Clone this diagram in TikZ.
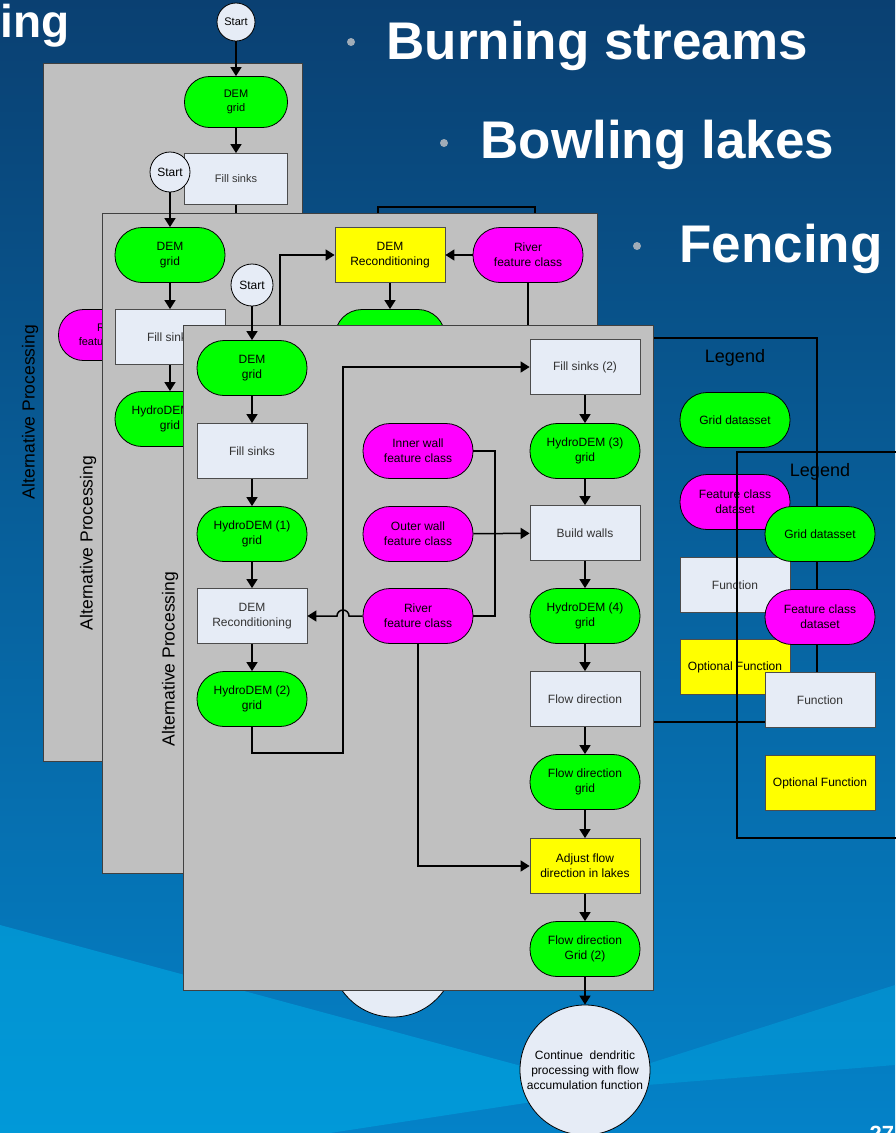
\documentclass[tikz,border=0pt]{standalone}
\usepackage{fontspec}
\setmainfont{Liberation Sans}
\usepackage{xcolor}
\usetikzlibrary{positioning, fit, arrows.meta, shapes}

\definecolor{bgtop}{RGB}{10,64,114}
\definecolor{bgbot}{RGB}{4,130,200}
\definecolor{swoosh}{RGB}{0,172,230}
\definecolor{panelgray}{RGB}{192,192,192}
\definecolor{gridgreen}{RGB}{0,255,0}
\definecolor{featmag}{RGB}{255,0,255}
\definecolor{optyellow}{RGB}{255,255,0}
\definecolor{funcfill}{RGB}{230,236,246}
\definecolor{dotgray}{RGB}{160,172,184}

\begin{document}
\begin{tikzpicture}[
		x=1pt, y=-1pt,
		% GLOBAL CFG
		font=\fontsize{12}{15}\selectfont,
		>={Triangle[length=9pt,width=11pt]},
		% Styles
		panel/.style={% the grey sheets
			draw=black!75,
			fill=panelgray,
			line width=.8pt,
		},
		datanode/.style={% grid datasets
			rectangle,
			rounded corners=27pt,
			draw,
			fill=gridgreen,
			minimum width=110pt,
			minimum height=55pt,
			align=center,
			line width=.8pt,
		},
		featnode/.style={% feature classes
			datanode,
			fill=featmag,
		},
		funcbox/.style={% functions
			rectangle,
			draw=black!70,
			fill=funcfill,
			minimum width=110pt,
			minimum height=55pt,
			align=center,
			text=black!80,
			line width=.8pt,
		},
		optbox/.style={% optional functions
			funcbox,
			fill=optyellow,
			text=black,
		},
		small/.style={% the back sheet is a bit smaller
			minimum width=103pt,
			minimum height=51pt,
			font=\fontsize{11}{14}\selectfont,
		},
		termnode/.style={% start and end
			circle,
			draw,
			fill=funcfill,
			align=center,
			inner sep=1pt,
			line width=.8pt,
		},
		sidelabel/.style={%
			rotate=90,
			font=\fontsize{17.5}{20}\selectfont
		},
		legtitle/.style={%
			font=\fontsize{18}{20}\selectfont
		},
		bullettext/.style={%
			anchor=base west,
			text=white,
			font=\fontsize{53}{60}\selectfont\bfseries
		},
		ArrowC1/.style={%
			line width=1.5pt,
		},
		]
		% Background of the slide
		\useasboundingbox (0,0) rectangle (895,1133);
		\shade[top color=bgtop, bottom color=bgbot] (0,0) rectangle (895,1133);
		\fill[swoosh, opacity=.55] (0,925) -- (610,1090) -- (330,1133) -- (0,1133) -- cycle;
		\fill[swoosh, opacity=.4] (560,1092) -- (895,985) -- (895,1065) -- cycle;
		
		% Title and bullets
		\node[anchor=base east, text=white, font=\fontsize{46}{46}\selectfont\bfseries] (title) at (73,37) {ing};
		\node[bullettext] (b1) at (383,59) {Burning streams};
		\node[bullettext] (b2) at (477,158) {Bowling lakes};
		\node[bullettext] (b3) at (676,262) {Fencing};
		\fill[dotgray] (351,42) circle (4pt) (444,143) circle (4pt) (637,246) circle (4pt);
		\node[anchor=base west, text=white, font=\fontsize{22}{22}\selectfont\bfseries] (pagenum) at (866,1141) {27};
		
		% First sheet (back)
		\draw[panel] (43,63) rectangle (302,761);
		\node[sidelabel] (p1lab) at (30,412) {Alternative Processing};
		\node[termnode, minimum size=38pt, font=\fontsize{11}{13}\selectfont] (p1start) at (236,22) {Start};
		\node[datanode, small, rounded corners=25pt] (p1dem) at (236,102) {DEM\\grid};
		\node[funcbox, small] (p1fill) at (236,179) {Fill sinks};
		\node[featnode, small, rounded corners=25pt] (p1river) at (110,335) {River\\feature class};
		\coordinate (p1a) at (378,240);
		\coordinate (p1b) at (535,240);
		\draw [->, ArrowC1] (p1start) -- (p1dem);
		\draw [->, ArrowC1] (p1dem) -- (p1fill);
		\draw [ArrowC1] (p1fill) -- ++(0,40);
		\draw [ArrowC1] (p1a) -- ++(0,-33) -| (p1b);
		
		% Second sheet
		\draw[panel] (102,213) rectangle (597,873);
		\node[sidelabel] (p2lab) at (88,543) {Alternative Processing};
		\node[termnode, minimum size=124pt] (p2cont) at (393,955) {};
		\node[datanode] (p2dem) at (170,255) {DEM\\grid};
		\node[funcbox] (p2fill) at (170,337) {Fill sinks};
		\node[datanode] (p2hydro) at (170,419) {HydroDEM (1)\\grid};
		\node[optbox] (p2recond) at (390,255) {DEM\\Reconditioning};
		\node[featnode] (p2river) at (528,255) {River\\feature class};
		\node[datanode] (p2hydrob) at (390,337) {};
		\node[termnode, minimum size=40pt] (p2start) at (170,172) {Start};
		\node[termnode, minimum size=42pt] (p3start) at (252,285) {Start};
		\coordinate (p2a) at (280,345);
		\draw [->, ArrowC1] (p2start) -- (p2dem);
		\draw [->, ArrowC1] (p2dem) -- (p2fill);
		\draw [->, ArrowC1] (p2fill) -- (p2hydro);
		\draw [->, ArrowC1] (p2river) -- (p2recond);
		\draw [->, ArrowC1] (p2a) |- (p2recond);
		\draw [->, ArrowC1] (p2recond) -- (p2hydrob);
		\draw [ArrowC1] (p2river) -- ++(0,70);
		
		% Legend frame behind the front sheet
		\draw[line width=1.3pt] (640,338) rectangle (817,722);
		
		% Third sheet (front)
		\draw[panel] (183,325) rectangle (653,990);
		\node[sidelabel] (p3lab) at (170,659) {Alternative Processing};
		\node[datanode] (p3dem) at (252,368) {DEM\\grid};
		\node[funcbox] (p3fill) at (252,451) {Fill sinks};
		\node[datanode] (p3hydro1) at (252,534) {HydroDEM (1)\\grid};
		\node[funcbox] (p3recond) at (252,616) {DEM\\Reconditioning};
		\node[datanode] (p3hydro2) at (252,699) {HydroDEM (2)\\grid};
		\node[featnode] (p3inner) at (418,451) {Inner wall\\feature class};
		\node[featnode] (p3outer) at (418,534) {Outer wall\\feature class};
		\node[featnode] (p3river) at (418,616) {River\\feature class};
		\node[funcbox] (p3fill2) at (585,367) {Fill sinks (2)};
		\node[datanode] (p3hydro3) at (585,451) {HydroDEM (3)\\grid};
		\node[funcbox] (p3build) at (585,533) {Build walls};
		\node[datanode] (p3hydro4) at (585,616) {HydroDEM (4)\\grid};
		\node[funcbox] (p3flow) at (585,699) {Flow direction};
		\node[datanode] (p3flowgrid) at (585,782) {Flow direction\\grid};
		\node[optbox] (p3adjust) at (585,866) {Adjust flow\\direction in lakes};
		\node[datanode] (p3flowgrid2) at (585,949) {Flow direction\\Grid (2)};
		\node[termnode, minimum size=130pt] (p3cont) at (585,1070) {Continue~ dendritic\\processing with flow\\accumulation function};
		\coordinate (p3a) at (343,753);
		\coordinate (p3b) at (495,451);
		\coordinate (p3hop) at (349,616);
		
		% Connecting the front sheet
		\draw [->, ArrowC1] (p3start) -- (p3dem);
		\draw [->, ArrowC1] (p3dem) -- (p3fill);
		\draw [->, ArrowC1] (p3fill) -- (p3hydro1);
		\draw [->, ArrowC1] (p3hydro1) -- (p3recond);
		\draw [->, ArrowC1] (p3recond) -- (p3hydro2);
		\draw [->, ArrowC1] (p3hydro2) |- (p3a) |- (p3fill2);
		\draw [ArrowC1] (p3inner) -| (p3b |- p3river) -- (p3river);
		\draw [->, ArrowC1] (p3outer) -- (p3build);
		\draw [->, ArrowC1] (p3river.west) -- (p3hop) arc[start angle=0, end angle=180, radius=6pt] -- (p3recond);
		\draw [->, ArrowC1] (p3river) |- (p3adjust);
		\draw [->, ArrowC1] (p3fill2) -- (p3hydro3);
		\draw [->, ArrowC1] (p3hydro3) -- (p3build);
		\draw [->, ArrowC1] (p3build) -- (p3hydro4);
		\draw [->, ArrowC1] (p3hydro4) -- (p3flow);
		\draw [->, ArrowC1] (p3flow) -- (p3flowgrid);
		\draw [->, ArrowC1] (p3flowgrid) -- (p3adjust);
		\draw [->, ArrowC1] (p3adjust) -- (p3flowgrid2);
		\draw [->, ArrowC1] (p3flowgrid2) -- (p3cont);
		
		% Legends
		\node[legtitle] (leg1) at (735,358) {Legend};
		\node[datanode] (leg1grid) at (735,420) {Grid datasset};
		\node[featnode] (leg1feat) at (735,502) {Feature class\\dataset};
		\node[funcbox] (leg1func) at (735,585) {Function};
		\node[optbox] (leg1opt) at (735,667) {Optional Function};
		\draw[line width=1.3pt] (737,452) rectangle (905,838);
		\node[legtitle] (leg2) at (820,472) {Legend};
		\node[datanode] (leg2grid) at (820,534) {Grid datasset};
		\node[featnode] (leg2feat) at (820,617) {Feature class\\dataset};
		\node[funcbox] (leg2func) at (820,700) {Function};
		\node[optbox] (leg2opt) at (820,783) {Optional Function};
		
	\end{tikzpicture}
\end{document}
